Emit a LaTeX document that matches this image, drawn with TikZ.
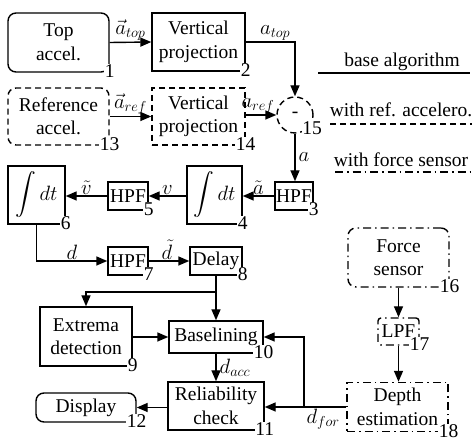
\documentclass[tikz,border=0pt]{standalone}
\usepackage{amsmath}
\usepackage{fontspec}
\setmainfont{Liberation Serif}
\usetikzlibrary{arrows.meta}
\tikzset{
  every node/.style={font=\fontsize{19.5}{23.5}\selectfont},
  bx/.style={draw, line width=1.4pt, align=center, inner sep=0pt},
  rbx/.style={bx, rounded corners=8pt},
  dsh/.style={dash pattern=on 6pt off 4pt},
  dshdot/.style={dash pattern=on 8pt off 4pt on 1.5pt off 4pt},
  num/.style={fill=white, inner sep=0.6pt, yshift=1.5pt},
  arr/.style={line width=1.4pt, -{Triangle[length=11pt,width=9pt]}},
  ln/.style={line width=1.4pt},
  lbl/.style={inner sep=1pt}
}
\begin{document}
\begin{tikzpicture}[x=1pt,y=-1pt]
\useasboundingbox (0,0) rectangle (472,438);
% row 1
\node[rbx, minimum width=101pt, minimum height=59pt] (b1) at (58.5,42.5) {Top\\accel.};
\node[bx, minimum width=93pt, minimum height=58pt] (b2) at (198.5,42) {Vertical\\projection};
\node[num] at (b1.south east) {1};
\node[num] at (b2.south east) {2};
% row 2
\node[rbx, dsh, minimum width=101pt, minimum height=57pt] (b13) at (58.5,116.5) {Reference\\accel.};
\node[bx, dsh, minimum width=93pt, minimum height=57pt] (b14) at (198.5,116.5) {Vertical\\projection};
\node[num] at (b13.south east) {13};
\node[num] at (b14.south east) {14};
\node[bx, dsh, circle, minimum size=36pt] (c15) at (295,115) {-};
\node[num] at (312,130) {15};
% legend
\node (lg1) at (402,62) {base algorithm};
\coordinate (l1a) at (318,73); \coordinate (l1b) at (470,73);
\draw[ln] (l1a) -- (l1b);
\node (lg2) at (401,110) {with ref. accelero.};
\coordinate (l2a) at (330,124); \coordinate (l2b) at (472,124);
\draw[ln, dsh] (l2a) -- (l2b);
\node (lg3) at (401,160) {with force sensor};
\coordinate (l3a) at (335,172); \coordinate (l3b) at (472,172);
\draw[ln, dshdot] (l3a) -- (l3b);
% row 3
\node[bx, minimum width=38pt, minimum height=28pt] (h3) at (294,196) {HPF};
\node[num] at (h3.south east) {3};
\node[bx, minimum width=55pt, minimum height=58pt] (b4) at (214.5,195) {$\displaystyle\int dt$};
\node[num] at (b4.south east) {4};
\node[bx, minimum width=40pt, minimum height=28pt] (h5) at (128,196) {HPF};
\node[num] at (h5.south east) {5};
\node[bx, minimum width=57pt, minimum height=58pt] (b6) at (36.5,195) {$\displaystyle\int dt$};
\node[num] at (b6.south east) {6};
% row 4
\node[bx, minimum width=40pt, minimum height=28pt] (h7) at (128,261) {HPF};
\node[num] at (h7.south east) {7};
\node[bx, minimum width=52pt, minimum height=28pt] (b8) at (216,261) {Delay};
\node[num] at (b8.south east) {8};
% row 5
\node[bx, minimum width=92pt, minimum height=59pt] (b9) at (86,336.5) {Extrema\\detection};
\node[num] at (b9.south east) {9};
\node[bx, minimum width=94pt, minimum height=32pt] (b10) at (216,337) {Baselining};
\node[num] at (b10.south east) {10};
\node[bx, minimum width=96pt, minimum height=48pt] (b11) at (216,406) {Reliability\\check};
\node[num] at (b11.south east) {11};
\node[rbx, minimum width=100pt, minimum height=29pt] (b12) at (86,407.5) {Display};
\node[num] at (b12.south east) {12};
% force path
\node[rbx, dshdot, minimum width=101pt, minimum height=59pt] (b16) at (398.5,257.5) {Force\\sensor};
\node[num] at (b16.south east) {16};
\node[bx, dshdot, rounded corners=3pt, minimum width=41pt, minimum height=27pt] (l17) at (398.5,331.5) {LPF};
\node[num] at (l17.south east) {17};
\node[bx, dshdot, minimum width=101pt, minimum height=49pt] (b18) at (397.5,407) {Depth\\estimation};
\node[num] at (b18.south east) {18};
% connectors
\draw[arr] (b1.east) -- node[lbl, above] {$\vec a_{top}$} (b2.west);
\draw[arr] (b13.east) -- node[lbl, above] {$\vec a_{ref}$} (b14.west);
\draw[arr] (b2.east) -| node[lbl, pos=0.3, above] {$a_{top}$} (c15.north);
\draw[arr] (b14.east |- c15.west) -- node[lbl, above, xshift=-3pt] {$a_{ref}$} (c15.west);
\draw[arr] (c15.south) -- node[lbl, right, xshift=2pt] {$a$} (c15.south |- h3.north);
\draw[arr] (h3.west) -- node[lbl, above] {$\tilde a$} (h3.west -| b4.east);
\draw[arr] (b4.west |- h5.east) -- node[lbl, above] {$v$} (h5.east);
\draw[arr] (h5.west) -- node[lbl, above] {$\tilde v$} (h5.west -| b6.east);
\draw[arr] (b6.south) |- node[lbl, pos=0.75, above] {$d$} (h7.west);
\draw[arr] (h7.east) -- node[lbl, above, xshift=-2pt] {$\tilde d$} (b8.west |- h7.east);
\coordinate (j8) at (216,292);
\draw[ln] (b8.south) -- (j8);
\draw[arr] (j8) -| (b9.north);
\draw[arr] (j8) -- (b10.north);
\draw[arr] (b9.east |- b10.west) -- (b10.west);
\draw[arr] (b10.south) -- node[lbl, right, xshift=2pt] {$d_{acc}$} (b11.north);
\draw[arr] (b11.west |- b12.east) -- (b12.east);
\draw[arr] (b16.south -| l17.north) -- (l17.north);
\draw[arr] (l17.south) -- (l17.south |- b18.north);
\coordinate (k18) at (304,407);
\draw[ln] (b18.west) -- node[lbl, below, xshift=-2pt] {$d_{for}$} (k18);
\draw[arr] (k18) -- (b11.east |- k18);
\draw[arr] (k18) |- (b10.east);
\end{tikzpicture}
\end{document}
